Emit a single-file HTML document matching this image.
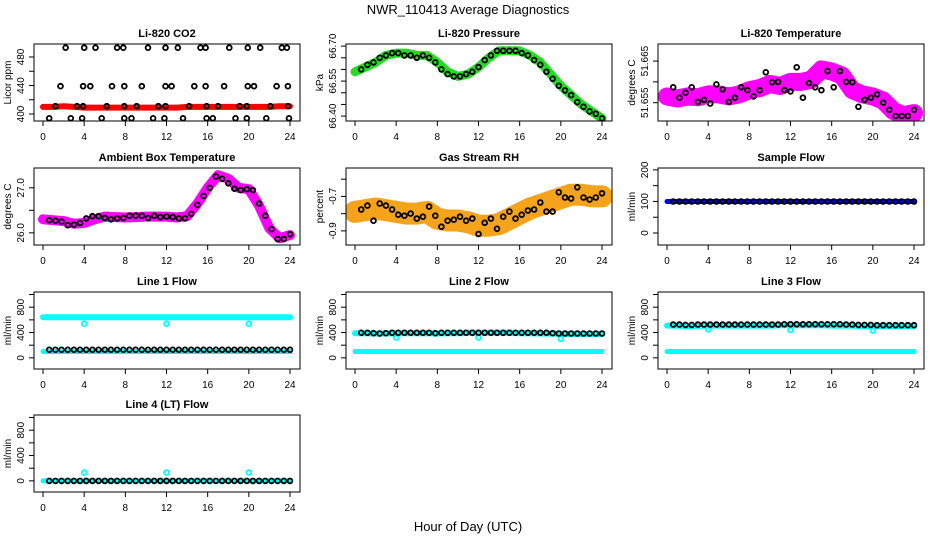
<!DOCTYPE html>
<html><head><meta charset="utf-8"><style>
html,body{margin:0;padding:0;background:#fff}
svg{display:block;font-family:"Liberation Sans",sans-serif}
</style></head><body>
<svg id="chart" width="936" height="540" viewBox="0 0 936 540" xmlns="http://www.w3.org/2000/svg">
<text x="468" y="14" text-anchor="middle" font-size="13">NWR_110413  Average Diagnostics</text>
<text x="468" y="531" text-anchor="middle" font-size="13">Hour of Day (UTC)</text>
</svg>
<script>
const hourX = [0,1,2,3,4,5,6,7,8,9,10,11,12,13,14,15,16,17,18,19,20,21,22,23,24];
const ptX = [0.6,1.2,1.8,2.4,3.0,3.6,4.2,4.8,5.4,6.0,6.6,7.2,7.8,8.4,9.0,9.6,10.2,10.8,11.4,12.0,12.6,13.2,13.8,14.4,15.0,15.6,16.2,16.8,17.4,18.0,18.6,19.2,19.8,20.4,21.0,21.6,22.2,22.8,23.4,24.0];
const xTicks = [0,4,8,12,16,20,24];

const co2Band = [410,410,411,410,409,409,409,409,409,409,409,409,409,409,410,410,410,410,410,410,410,410,410,411,411];
const co2BlackX = [2.2,4.0,5.1,7.2,7.8,10.2,11.9,13.1,15.3,15.8,18.1,19.9,21.1,23.2,23.7,
 1.7,3.9,4.6,6.7,7.9,9.6,11.9,12.5,14.7,15.8,17.6,19.9,20.5,22.7,23.8,
 1.2,3.3,3.9,6.2,7.9,9.1,11.2,11.9,14.2,15.9,17.0,19.1,19.8,22.1,23.8,
 0.6,2.7,3.8,5.7,7.9,8.6,10.7,11.8,13.6,15.9,16.5,18.7,19.8,21.7,23.9];
const co2BlackY = [493,493,493,493,493,493,493,493,493,493,493,493,493,493,493,
 439,439,439,439,439,439,439,439,439,439,439,439,439,439,439,
 411,411,411,411,411,411,411,411,411,411,411,411,411,411,411,
 394,394,394,394,394,394,394,394,394,394,394,394,394,394,394];

const pressBand = [66.59,66.61,66.63,66.66,66.67,66.67,66.66,66.66,66.63,66.59,66.57,66.58,66.61,66.65,66.68,66.68,66.68,66.66,66.63,66.58,66.53,66.49,66.45,66.42,66.39];
const pressBlack = [66.60,66.62,66.63,66.65,66.66,66.67,66.67,66.66,66.66,66.65,66.66,66.65,66.63,66.60,66.58,66.57,66.57,66.58,66.59,66.61,66.64,66.66,66.68,66.68,66.68,66.68,66.67,66.66,66.64,66.62,66.59,66.56,66.53,66.51,66.49,66.46,66.44,66.42,66.41,66.39];

const tempBand = [51.6565,51.656,51.6565,51.6563,51.657,51.657,51.6565,51.657,51.658,51.6585,51.6595,51.659,51.66,51.66,51.6605,51.663,51.6625,51.6615,51.658,51.657,51.6565,51.6555,51.653,51.652,51.6525];
const tempBlack = [51.6587,51.6562,51.6574,51.6587,51.6552,51.6557,51.6548,51.6594,51.6582,51.6552,51.6562,51.6587,51.658,51.6565,51.658,51.6623,51.6599,51.66,51.658,51.6577,51.6635,51.6562,51.6597,51.6587,51.658,51.6626,51.6587,51.6626,51.66,51.6599,51.654,51.6557,51.6562,51.657,51.655,51.6533,51.6518,51.6518,51.6518,51.6533];

const ambBlack = [26.28,26.27,26.25,26.17,26.18,26.22,26.32,26.37,26.37,26.33,26.3,26.32,26.33,26.38,26.38,26.38,26.33,26.38,26.35,26.36,26.35,26.32,26.32,26.42,26.62,26.82,27.0,27.25,27.2,27.1,26.98,26.95,26.97,26.95,26.65,26.38,26.08,25.86,25.86,25.97];
const ambBand = [26.3,26.28,26.26,26.2,26.22,26.3,26.36,26.35,26.34,26.35,26.36,26.36,26.36,26.34,26.37,26.65,27.0,27.28,27.2,27.0,26.97,26.6,26.1,25.88,25.95];

const rhBand = [-0.79,-0.78,-0.77,-0.78,-0.79,-0.8,-0.8,-0.79,-0.83,-0.84,-0.84,-0.85,-0.87,-0.87,-0.86,-0.83,-0.8,-0.77,-0.75,-0.73,-0.71,-0.69,-0.69,-0.7,-0.7];
const rhBlack = [-0.776,-0.753,-0.841,-0.741,-0.753,-0.776,-0.806,-0.812,-0.8,-0.829,-0.818,-0.759,-0.812,-0.876,-0.841,-0.835,-0.818,-0.841,-0.829,-0.918,-0.853,-0.829,-0.888,-0.818,-0.788,-0.829,-0.806,-0.782,-0.776,-0.735,-0.788,-0.788,-0.676,-0.706,-0.712,-0.647,-0.706,-0.718,-0.706,-0.682];

const sampleBand = [100,100,100,100,100,100,100,100,100,100,100,100,100,100,100,100,100,100,100,100,100,100,100,100,100];
const sampleBlack = [100,100,100,100,100,100,100,100,100,100,100,100,100,100,100,100,100,100,100,100,100,100,100,100,100,100,100,100,100,100,100,100,100,100,100,100,100,100,100,100];

const dipX = [4,12,20];
const line1High = [640,640,640,640,640,640,640,640,640,640,640,640,640,640,640,640,640,640,640,640,640,640,640,640,640];
const line1Low = [100,100,100,100,100,100,100,100,100,100,100,100,100,100,100,100,100,100,100,100,100,100,100,100,100];
const line1Black = [128,128,128,128,128,128,128,128,128,128,128,128,128,128,128,128,128,128,128,128,128,128,128,128,128,128,128,128,128,128,128,128,128,128,128,128,128,128,128,128];
const line1Dip = [540,540,540];

const line2High = [390,390,385,385,390,390,390,390,385,390,390,395,395,395,395,395,390,390,385,385,380,375,375,375,375];
const line2Low = [100,100,100,100,100,100,100,100,100,100,100,100,100,100,100,100,100,100,100,100,100,100,100,100,100];
const line2Black = [395,395,390,385,390,395,395,395,395,395,395,395,390,395,395,395,395,395,395,395,395,395,395,395,395,395,395,395,395,395,395,390,385,385,385,385,385,385,385,385];
const line2Dip = [320,320,300];

const line3High = [510,510,500,505,510,510,510,510,510,510,510,515,515,515,515,515,510,510,510,500,500,500,500,500,500];
const line3Low = [100,100,100,100,100,100,100,100,100,100,100,100,100,100,100,100,100,100,100,100,100,100,100,100,100];
const line3Black = [525,525,520,520,525,525,525,525,525,525,525,525,525,525,525,525,525,525,530,530,530,530,530,530,530,530,530,530,525,525,520,520,520,515,515,515,515,515,515,515];
const line3Dip = [450,440,430];

const line4Band = [0,0,0,0,0,0,0,0,0,0,0,0,0,0,0,0,0,0,0,0,0,0,0,0,0];
const line4Black = [0,0,0,0,0,0,0,0,0,0,0,0,0,0,0,0,0,0,0,0,0,0,0,0,0,0,0,0,0,0,0,0,0,0,0,0,0,0,0,0];
const line4Dip = [130,130,130];

const NS = "http://www.w3.org/2000/svg";
const svg = document.getElementById("chart");
const ROWS = [44,168,292,415];
const BOX_H = 77;
function mk(tag, attrs, parent){const e=document.createElementNS(NS,tag);for(const k in attrs)e.setAttribute(k,attrs[k]);parent.appendChild(e);return e;}

function panel(cfg){
  const left = 34 + 312*cfg.col, right = left + 266;
  const top = ROWS[cfg.row], bottom = top + BOX_H;
  const g = mk("g",{},svg);
  
  
  const xs = v => left + 9 + v/24*247;
  const ys = v => bottom - (v - cfg.ymin)/(cfg.ymax - cfg.ymin)*BOX_H;
  const clipId = "clip" + cfg.name;
  const cp = mk("clipPath",{id:clipId},g);
  mk("rect",{x:left,y:top,width:266,height:BOX_H},cp);
  const plot = mk("g",{"clip-path":"url(#"+clipId+")"},g);
  for (const L of cfg.layers){
    if (L.type === "band"){
      let d = "";
      L.xs.forEach((x,i)=>{d += (i?"L":"M") + xs(x).toFixed(1) + "," + ys(L.ys[i]).toFixed(1);});
      const p = mk("path",{d:d,fill:"none",stroke:L.color,"stroke-width":L.w,"stroke-linejoin":"round","stroke-linecap":"round"},plot);
      
      
    } else {
      L.xs.forEach((x,i)=>{
        const c = mk("circle",{cx:xs(x).toFixed(1),cy:ys(L.ys[i]).toFixed(1),r:2.4,fill:"none",stroke:L.color,"stroke-width":1.8},plot);
        
        
      });
    }
  }
  const box = mk("rect",{x:left,y:top,width:266,height:BOX_H,fill:"none",stroke:"#000","stroke-width":1},g);
  
  
  mk("line",{x1:xs(0),x2:xs(24),y1:bottom,y2:bottom,stroke:"#000"},g);
  xTicks.forEach(t=>{
    mk("line",{x1:xs(t),x2:xs(t),y1:bottom,y2:bottom+5,stroke:"#000"},g);
    const tx = mk("text",{x:xs(t),y:bottom+19,"text-anchor":"middle","font-size":10},g);
    tx.textContent = t;
    
    
  });
  const tk = cfg.ticks;
  mk("line",{x1:left,x2:left,y1:ys(tk[0]),y2:ys(tk[tk.length-1]),stroke:"#000"},g);
  tk.forEach(t=>{ mk("line",{x1:left-5,x2:left,y1:ys(t),y2:ys(t),stroke:"#000"},g); });
  cfg.labels.forEach(t=>{
    const y = ys(parseFloat(t));
    const tx = mk("text",{x:left-10,y:y,"text-anchor":"middle","font-size":10,transform:"rotate(-90 "+(left-10)+" "+y+")"},g);
    tx.textContent = t;
    
    
  });
  const yt = mk("text",{x:left-23,y:(top+bottom)/2,"text-anchor":"middle","font-size":10,transform:"rotate(-90 "+(left-23)+" "+((top+bottom)/2)+")"},g);
  yt.textContent = cfg.ylab;
  
  
  const tt = mk("text",{x:(left+right)/2,y:top-7,"text-anchor":"middle","font-size":11,"font-weight":"bold"},g);
  tt.textContent = cfg.title;
  
  
}

const flowTicks=[0,200,400,600,800,1000], flowLabels=["0","400","800"];
panel({name:"co2-panel",col:0,row:0,title:"Li-820 CO2",ylab:"Licor ppm",ymin:390.2,ymax:498.2,ticks:[400,420,440,460,480],labels:["400","440","480"],
  layers:[{type:"band",name:"co2-band",xs:hourX,ys:co2Band,color:"#f00",w:6},{type:"pts",name:"co2-point",xs:co2BlackX,ys:co2BlackY,color:"#000"}]});
panel({name:"pressure-panel",col:1,row:0,title:"Li-820 Pressure",ylab:"kPa",ymin:66.379,ymax:66.709,ticks:[66.40,66.45,66.50,66.55,66.60,66.65,66.70],labels:["66.40","66.55","66.70"],
  layers:[{type:"band",name:"pressure-band",xs:hourX,ys:pressBand,color:"#22dd22",w:9},{type:"pts",name:"pressure-point",xs:ptX,ys:pressBlack,color:"#000"}]});
panel({name:"temperature-panel",col:2,row:0,title:"Li-820 Temperature",ylab:"degrees C",ymin:51.6506,ymax:51.6691,ticks:[51.655,51.660,51.665],labels:["51.655","51.665"],
  layers:[{type:"band",name:"temperature-band",xs:hourX,ys:tempBand,color:"#ff00ff",w:18},{type:"pts",name:"temperature-point",xs:ptX,ys:tempBlack,color:"#000"}]});
panel({name:"ambient-panel",col:0,row:1,title:"Ambient Box Temperature",ylab:"degrees C",ymin:25.73,ymax:27.44,ticks:[26.0,26.5,27.0],labels:["26.0","27.0"],
  layers:[{type:"band",name:"ambient-band",xs:hourX,ys:ambBand,color:"#ff00ff",w:10},{type:"pts",name:"ambient-point",xs:ptX,ys:ambBlack,color:"#000"}]});
panel({name:"rh-panel",col:1,row:1,title:"Gas Stream RH",ylab:"percent",ymin:-0.982,ymax:-0.535,ticks:[-0.9,-0.8,-0.7,-0.6],labels:["-0.9","-0.7"],
  layers:[{type:"band",name:"rh-band",xs:hourX,ys:rhBand,color:"#f5a31a",w:22},{type:"pts",name:"rh-point",xs:ptX,ys:rhBlack,color:"#000"}]});
panel({name:"sample-flow-panel",col:2,row:1,title:"Sample Flow",ylab:"ml/min",ymin:-38,ymax:206,ticks:[0,50,100,150,200],labels:["0","100","200"],
  layers:[{type:"band",name:"sample-band",xs:hourX,ys:sampleBand,color:"#0000ff",w:5},{type:"pts",name:"sample-point",xs:ptX,ys:sampleBlack,color:"#000"}]});
panel({name:"line1-panel",col:0,row:2,title:"Line 1 Flow",ylab:"ml/min",ymin:-176,ymax:1040,ticks:flowTicks,labels:flowLabels,
  layers:[{type:"band",name:"line1-high",xs:hourX,ys:line1High,color:"#00ffff",w:6},{type:"band",name:"line1-low",xs:hourX,ys:line1Low,color:"#00ffff",w:5},
  {type:"pts",name:"line1-dip",xs:dipX,ys:line1Dip,color:"#00ffff"},{type:"pts",name:"line1-point",xs:ptX,ys:line1Black,color:"#000"}]});
panel({name:"line2-panel",col:1,row:2,title:"Line 2 Flow",ylab:"ml/min",ymin:-176,ymax:1040,ticks:flowTicks,labels:flowLabels,
  layers:[{type:"band",name:"line2-high",xs:hourX,ys:line2High,color:"#00ffff",w:6},{type:"band",name:"line2-low",xs:hourX,ys:line2Low,color:"#00ffff",w:5},
  {type:"pts",name:"line2-dip",xs:dipX,ys:line2Dip,color:"#00ffff"},{type:"pts",name:"line2-point",xs:ptX,ys:line2Black,color:"#000"}]});
panel({name:"line3-panel",col:2,row:2,title:"Line 3 Flow",ylab:"ml/min",ymin:-176,ymax:1040,ticks:flowTicks,labels:flowLabels,
  layers:[{type:"band",name:"line3-high",xs:hourX,ys:line3High,color:"#00ffff",w:6},{type:"band",name:"line3-low",xs:hourX,ys:line3Low,color:"#00ffff",w:5},
  {type:"pts",name:"line3-dip",xs:dipX,ys:line3Dip,color:"#00ffff"},{type:"pts",name:"line3-point",xs:ptX,ys:line3Black,color:"#000"}]});
panel({name:"line4-panel",col:0,row:3,title:"Line 4 (LT) Flow",ylab:"ml/min",ymin:-176,ymax:1040,ticks:flowTicks,labels:flowLabels,
  layers:[{type:"band",name:"line4-band",xs:hourX,ys:line4Band,color:"#00ffff",w:5},
  {type:"pts",name:"line4-dip",xs:dipX,ys:line4Dip,color:"#00ffff"},{type:"pts",name:"line4-point",xs:ptX,ys:line4Black,color:"#000"}]});
</script>
</body></html>
